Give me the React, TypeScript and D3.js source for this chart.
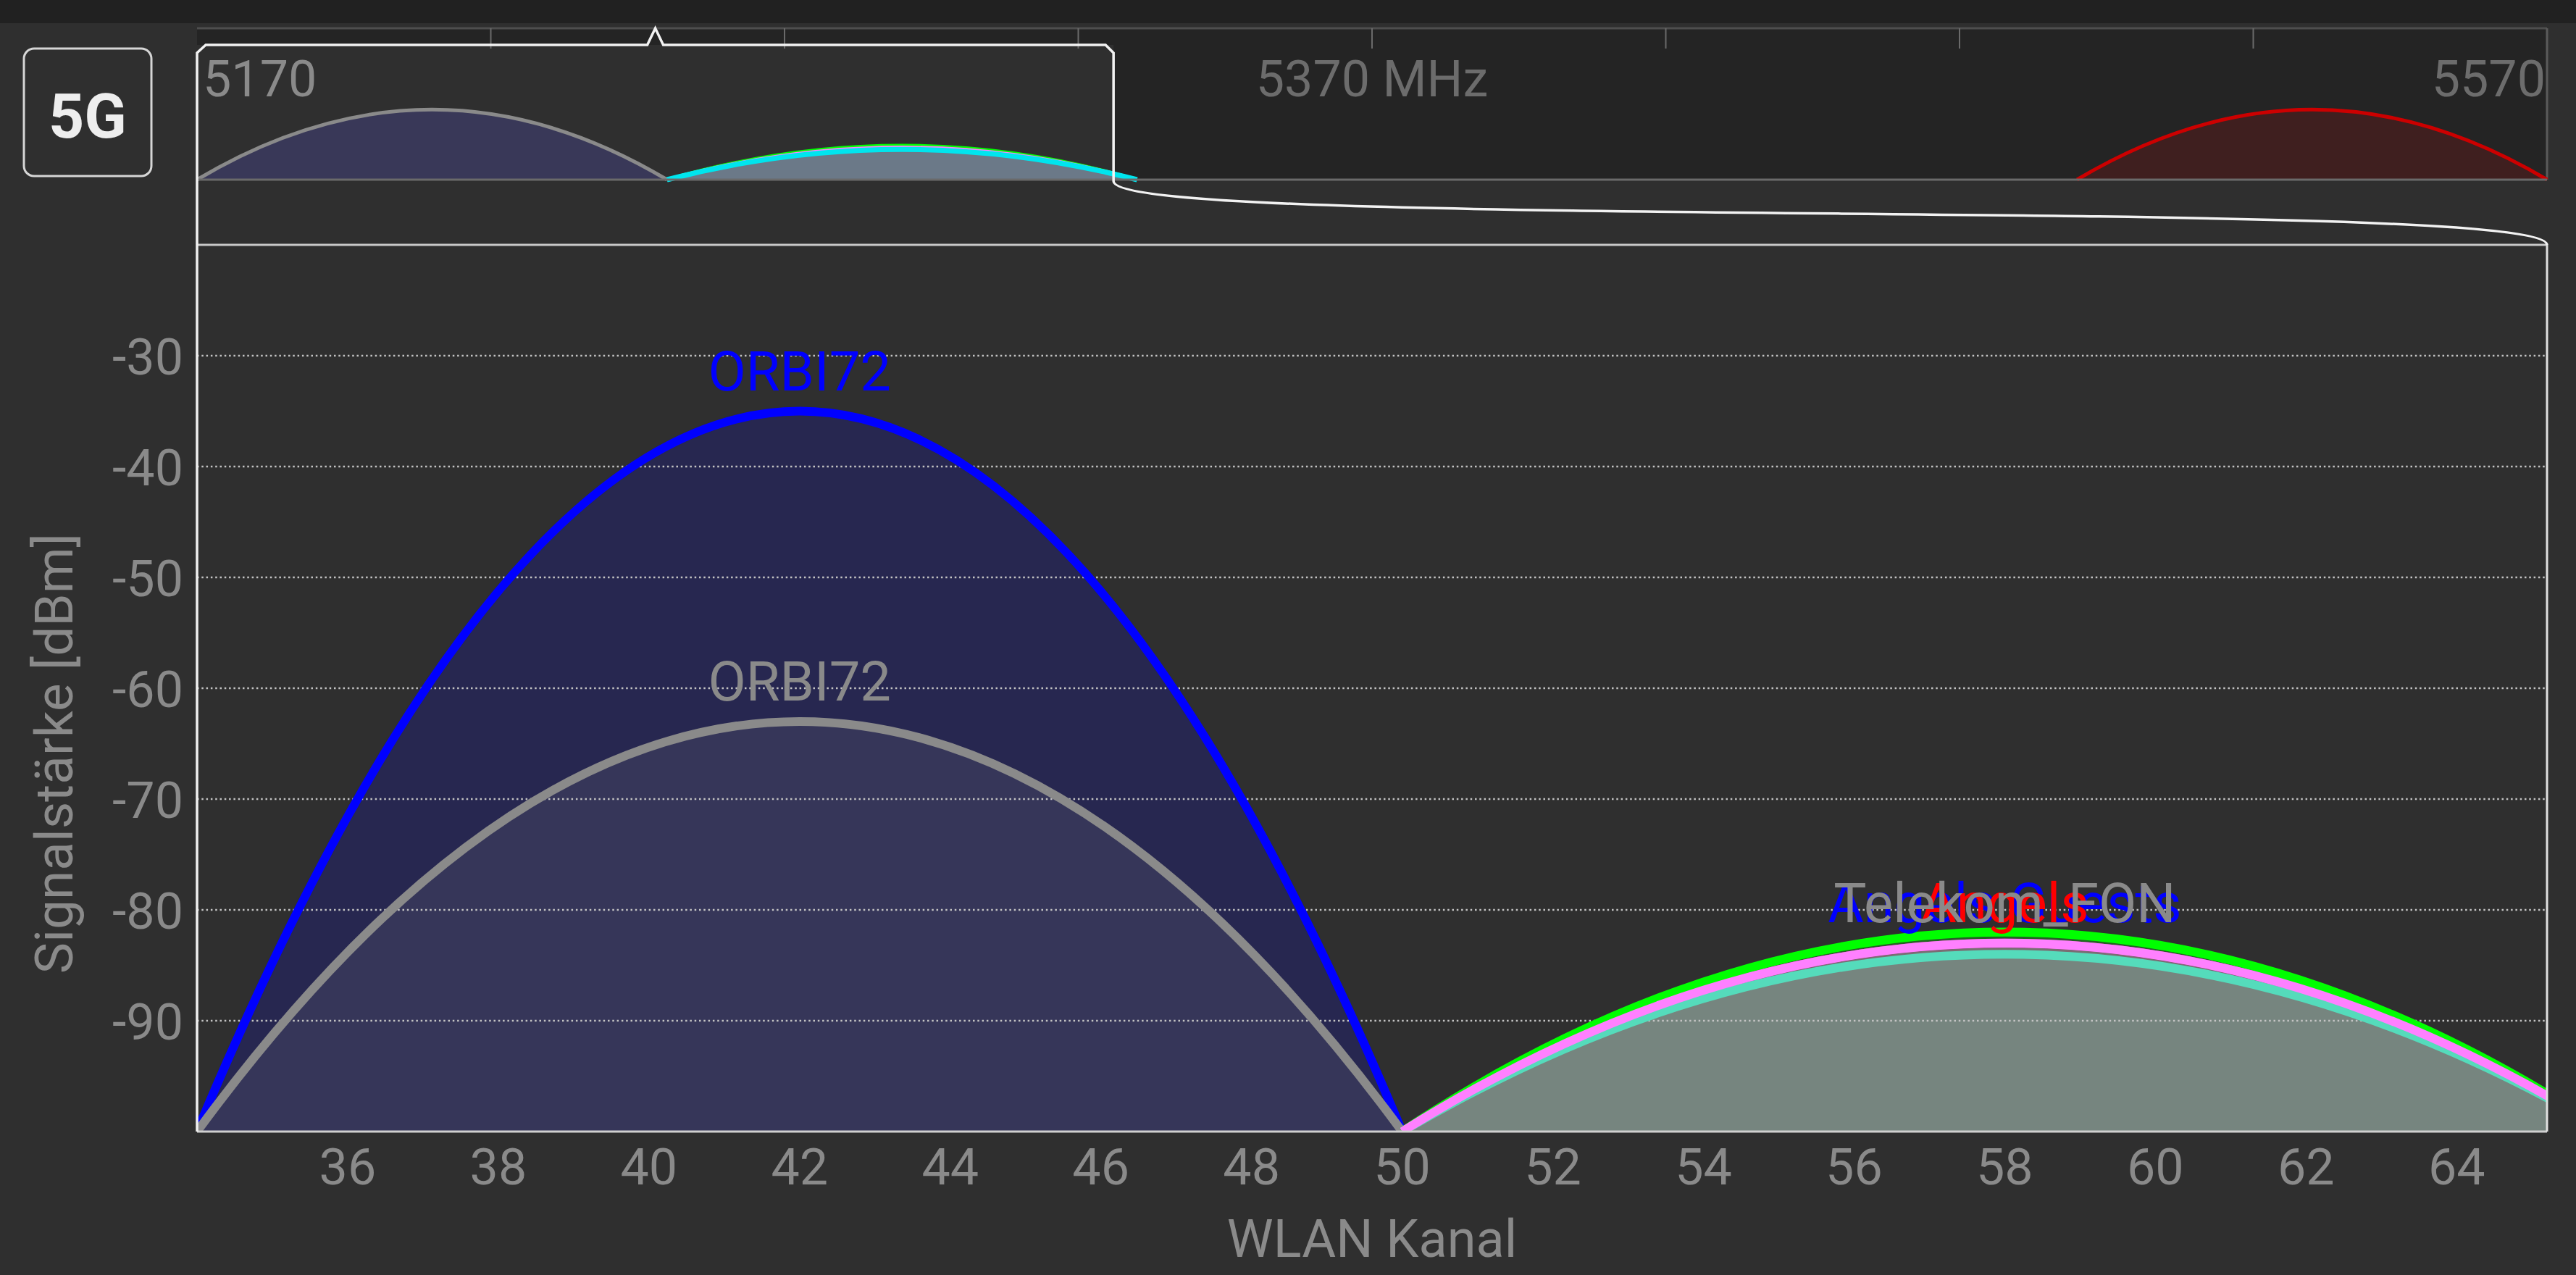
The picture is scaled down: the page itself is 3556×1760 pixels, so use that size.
import React from "react";
import * as d3 from "d3";

const W = 3556;
const H = 1760;

// ---------- data ----------
const channelTicks = [36, 38, 40, 42, 44, 46, 48, 50, 52, 54, 56, 58, 60, 62, 64];
const levelTicks = [-30, -40, -50, -60, -70, -80, -90];

// main chart networks (drawing order)
const ssids = ["ORBI72", "ORBI72", "Angels Guests", "Angels", "Telekom_FON", "", "", ""];
const centerChannels = [42, 42, 58, 58, 58, 58, 58, 58];
const widthsMHz = [80, 80, 80, 80, 80, 80, 80, 80];
const levels = [-35, -63, -83, -83, -83, -84, -82, -83];
const colorKeys = ["blue", "gray", "blue", "red", "gray", "teal", "green", "pink"];

// overview strip (frequency in MHz)
const miniLabelMHz = [5170, 5370, 5570];
const miniLabelText = ["5170", "5370 MHz", "5570"];
const miniTickMHz = [5220, 5270, 5320, 5370, 5420, 5470, 5520];
const miniCenters = [5210, 5290, 5290, 5290, 5530];
const miniWidths = [80, 80, 80, 80, 80];
const miniLevels = [-63, -82, -83, -84, -63];
const miniColorKeys = ["gray", "green", "pink", "cyan", "red"];

// ---------- styles ----------
const strokeColor: Record<string, string> = {
  blue: "#0000ff",
  gray: "#8a8a8a",
  red: "#ff0000",
  teal: "#55dbbb",
  green: "#00ff00",
  pink: "#ff80ff",
  cyan: "#00e5ee",
};
const miniStroke: Record<string, string> = {
  gray: "#8a8a8a",
  green: "#00ff00",
  pink: "#ff80ff",
  cyan: "#00e5ee",
  red: "#cc0000",
};
const miniFill: Record<string, string> = {
  gray: "#393858",
  green: "none",
  pink: "none",
  cyan: "#6b7988",
  red: "#3f1f1f",
};
const labelColor = "#8a8a8a";
const FONT = "Roboto, 'Noto Sans', sans-serif";

// ---------- layout ----------
const PL = 272, PR = 3516, PT = 338, PB = 1562;
const ML = 272, MR = 3516, MT = 39, MB = 248;
const VIEW_START = 5170, VIEW_END = 5326;

const chToMHz = (ch: number) => 5000 + 5 * ch;

const x = d3.scaleLinear().domain([VIEW_START, VIEW_END]).range([PL, PR]);
const y = d3.scaleLinear().domain([-100, -20]).range([PB, PT]);
const mx = d3.scaleLinear().domain([5170, 5570]).range([ML, MR]);
const my = d3.scaleLinear().domain([-100, -20]).range([MB, MT]);

function arcPath(
  xs: d3.ScaleLinear<number, number>,
  ys: d3.ScaleLinear<number, number>,
  c: number,
  w: number,
  lvl: number,
  close: boolean
) {
  const p = d3.path();
  const x0 = xs(c - w / 2);
  const x1 = xs(c + w / 2);
  const yb = ys(-100);
  p.moveTo(x0, yb);
  p.quadraticCurveTo(xs(c), ys(2 * lvl + 100), x1, yb);
  if (close) p.closePath();
  return p.toString();
}

export default function App() {
  const idx = ssids.map((_, i) => i);
  const fillOpacity = (i: number) => (centerChannels[i] === 42 ? 0.16 : 0.25);
  const vx0 = mx(VIEW_START);
  const vx1 = mx(VIEW_END);
  const vmid = (vx0 + vx1) / 2;

  const bracket = [
    `M${PL},${PT}`,
    `L${vx0},${MT + 34}`,
    `L${vx0 + 12},${MT + 23}`,
    `L${vmid - 11},${MT + 23}`,
    `L${vmid},${MT}`,
    `L${vmid + 11},${MT + 23}`,
    `L${vx1 - 11},${MT + 23}`,
    `L${vx1},${MT + 34}`,
    `L${vx1},${MB + 2}`,
    `C${vx1},${MB + 72} ${PR},${MB + 22} ${PR},${PT}`,
  ].join(" ");

  return (
    <div>
      <style>{`body{margin:0;background:#2f2f2f}`}</style>
      <svg width={W} height={H} style={{ display: "block" }}>
        <defs>
          <clipPath id="plotClip">
            <rect x={PL} y={PT} width={PR - PL} height={PB - PT} />
          </clipPath>
        </defs>
        <rect x={0} y={0} width={W} height={H} fill="#2f2f2f" />
        <rect x={0} y={0} width={W} height={32} fill="#212121" />

        {/* 5G button */}
        <rect x={33} y={67} width={176} height={176} rx={14} fill="none" stroke="#d6d6d6" strokeWidth={3} />
        <text x={121} y={190} textAnchor="middle" fontFamily={FONT} fontWeight="bold" fontSize={86} fill="#eeeeee">
          5G
        </text>

        {/* overview strip */}
        <rect x={ML} y={MT} width={MR - ML} height={MB - MT} fill="#242424" />
        <rect x={vx0} y={MT + 23} width={vx1 - vx0} height={MB - MT - 23} fill="#2f2f2f" />
        <line x1={ML} x2={MR} y1={MT} y2={MT} stroke="#4e4e4e" strokeWidth={3} />
        <line x1={MR} x2={MR} y1={MT} y2={MB} stroke="#5a5a5a" strokeWidth={3} />
        {miniTickMHz.map((f) => (
          <line key={f} x1={mx(f)} x2={mx(f)} y1={MT} y2={MT + 28} stroke="#6a6a6a" strokeWidth={2} />
        ))}
        {miniLabelMHz.map((f, i) => (
          <text
            key={f}
            x={i === 0 ? mx(f) + 8 : i === miniLabelMHz.length - 1 ? mx(f) - 2 : mx(f)}
            y={133}
            textAnchor={i === 0 ? "start" : i === miniLabelMHz.length - 1 ? "end" : "middle"}
            fontFamily={FONT}
            fontSize={70}
            fill={f >= VIEW_START && f <= VIEW_END ? "#8a8a8a" : "#6c6c6c"}
          >
            {miniLabelText[i]}
          </text>
        ))}
        {miniCenters.map((c, i) =>
          miniFill[miniColorKeys[i]] !== "none" ? (
            <path key={"mf" + i} d={arcPath(mx, my, c, miniWidths[i], miniLevels[i], true)} fill={miniFill[miniColorKeys[i]]} />
          ) : null
        )}
        {miniCenters.map((c, i) => (
          <path
            key={"ms" + i}
            d={arcPath(mx, my, c, miniWidths[i], miniLevels[i], false)}
            fill="none"
            stroke={miniStroke[miniColorKeys[i]]}
            strokeWidth={miniColorKeys[i] === "cyan" ? 7 : 5}
          />
        ))}
        <line x1={ML} x2={MR} y1={MB} y2={MB} stroke="#6a6a6a" strokeWidth={3} />

        {/* main plot */}
        <g clipPath="url(#plotClip)">
          {idx.map((i) => (
            <path
              key={"f" + i}
              d={arcPath(x, y, chToMHz(centerChannels[i]), widthsMHz[i], levels[i], true)}
              fill={strokeColor[colorKeys[i]]}
              fillOpacity={fillOpacity(i)}
            />
          ))}
          {levelTicks.map((v) => (
            <line key={v} x1={PL} x2={PR} y1={y(v)} y2={y(v)} stroke="#c4c4c4" strokeWidth={2.5} strokeDasharray="2.5 3.8" />
          ))}
          {idx.map((i) => (
            <path
              key={"s" + i}
              d={arcPath(x, y, chToMHz(centerChannels[i]), widthsMHz[i], levels[i], false)}
              fill="none"
              stroke={strokeColor[colorKeys[i]]}
              strokeWidth={12}
            />
          ))}
          {idx.map((i) =>
            ssids[i] ? (
              <text
                key={"l" + i}
                x={x(chToMHz(centerChannels[i]))}
                y={y(levels[i]) - 29}
                textAnchor="middle"
                fontFamily={FONT}
                fontSize={76}
                fill={strokeColor[colorKeys[i]]}
              >
                {ssids[i]}
              </text>
            ) : null
          )}
        </g>

        {/* plot frame */}
        <line x1={PL} x2={PR} y1={PT} y2={PT} stroke="#c8c8c8" strokeWidth={3} />
        <line x1={PL} x2={PR} y1={PB} y2={PB} stroke="#d0d0d0" strokeWidth={3} />
        <line x1={PR} x2={PR} y1={PT} y2={PB} stroke="#e0e0e0" strokeWidth={3} />
        <line x1={PL} x2={PL} y1={PT} y2={PB} stroke="#f0f0f0" strokeWidth={3.5} />
        <path d={bracket} fill="none" stroke="#f2f2f2" strokeWidth={3.5} />

        {/* axes */}
        {levelTicks.map((v) => (
          <text key={"yt" + v} x={253} y={y(v) + 26} textAnchor="end" fontFamily={FONT} fontSize={70} fill={labelColor}>
            {v}
          </text>
        ))}
        {channelTicks.map((c) => (
          <text key={"xt" + c} x={x(chToMHz(c))} y={1635} textAnchor="middle" fontFamily={FONT} fontSize={70} fill={labelColor}>
            {c}
          </text>
        ))}
        <text x={(PL + PR) / 2} y={1735} textAnchor="middle" fontFamily={FONT} fontSize={72} fill={labelColor}>
          WLAN Kanal
        </text>
        <text
          transform={`translate(100,1040) rotate(-90)`}
          textAnchor="middle"
          fontFamily={FONT}
          fontSize={73}
          fill={labelColor}
        >
          Signalstärke [dBm]
        </text>
      </svg>
    </div>
  );
}
